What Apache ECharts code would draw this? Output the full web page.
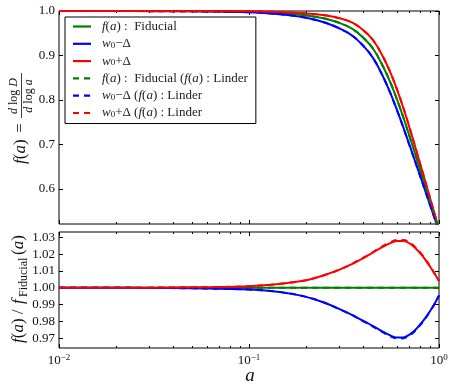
<!DOCTYPE html>
<html>
<head>
<meta charset="utf-8">
<script src="https://cdn.jsdelivr.net/npm/echarts@6/dist/echarts.min.js"></script>
<style>
  html, body { margin: 0; padding: 0; background: #fff; }
  #chart { width: 458px; height: 387px; }
</style>
</head>
<body>
<div id="chart"></div>
<script>
// scale factor a
const A = [0.01, 0.02, 0.03, 0.05, 0.07, 0.1, 0.13, 0.16, 0.2, 0.25, 0.3, 0.35, 0.4, 0.45, 0.5,
    0.55, 0.6, 0.65, 0.7, 0.75, 0.8, 0.85, 0.9, 0.95, 1.0];

// top panel: f(a) = dlogD/dloga
const fFid = [1.0000, 0.9999, 0.9998, 0.9996, 0.9992, 0.9982, 0.9965, 0.994, 0.990, 0.983, 0.973, 0.960,
    0.940, 0.915, 0.881, 0.843, 0.802, 0.760, 0.718, 0.678, 0.640, 0.604, 0.570, 0.538, 0.508];
const fLo = [1.0000, 0.9999, 0.9997, 0.9993, 0.9986, 0.9972, 0.9946, 0.9908, 0.9847, 0.9743, 0.9606, 0.9444,
    0.9215, 0.8941, 0.8583, 0.8193, 0.7783, 0.7376, 0.6980, 0.6610, 0.6262, 0.5933, 0.5622, 0.5330, 0.5057];
const fHi = [1.0000, 0.9999, 0.9999, 0.9999, 0.9997, 0.9992, 0.9983, 0.9969, 0.9945, 0.9905, 0.9835, 0.9737,
    0.9566, 0.9342, 0.9022, 0.8653, 0.8243, 0.7812, 0.7370, 0.6941, 0.6530, 0.6140, 0.5771, 0.5424, 0.5100];
const fFidL = [1.0000, 0.9999, 0.9998, 0.9996, 0.9992, 0.9982, 0.9965, 0.994, 0.990, 0.983, 0.973, 0.960,
    0.940, 0.915, 0.881, 0.843, 0.802, 0.760, 0.718, 0.678, 0.640, 0.604, 0.570, 0.538, 0.508];
const fLoL = [1.0000, 0.9999, 0.9997, 0.9993, 0.9986, 0.9972, 0.9946, 0.9908, 0.9847, 0.9743, 0.9606, 0.9444,
    0.9215, 0.8940, 0.8580, 0.8189, 0.7778, 0.7371, 0.6976, 0.6607, 0.6259, 0.5931, 0.5621, 0.5330, 0.5057];
const fHiL = [1.0000, 0.9999, 0.9999, 0.9999, 0.9997, 0.9992, 0.9983, 0.9969, 0.9945, 0.9905, 0.9835, 0.9737,
    0.9566, 0.9343, 0.9024, 0.8657, 0.8248, 0.7817, 0.7374, 0.6944, 0.6533, 0.6142, 0.5772, 0.5424, 0.5100];

// bottom panel: f(a) / f_Fiducial(a)
const rFid = [1, 1, 1, 1, 1, 1, 1, 1, 1, 1, 1, 1, 1, 1, 1, 1, 1, 1, 1, 1, 1, 1, 1, 1, 1];
const rLo = [1.0000, 1.0000, 0.9999, 0.9997, 0.9994, 0.9990, 0.9981, 0.9968, 0.9946, 0.9911, 0.9873, 0.9838,
    0.9803, 0.9772, 0.9743, 0.9719, 0.9704, 0.9705, 0.9722, 0.9749, 0.9785, 0.9823, 0.9864, 0.9907, 0.9955];
const rHi = [1.0000, 1.0000, 1.0001, 1.0003, 1.0005, 1.0010, 1.0018, 1.0029, 1.0045, 1.0076, 1.0108, 1.0143,
    1.0177, 1.0210, 1.0241, 1.0264, 1.0278, 1.0279, 1.0264, 1.0237, 1.0203, 1.0165, 1.0124, 1.0082, 1.0040];
const rFidL = [1, 1, 1, 1, 1, 1, 1, 1, 1, 1, 1, 1, 1, 1, 1, 1, 1, 1, 1, 1, 1, 1, 1, 1, 1];
const rLoL = [1.0000, 1.0000, 0.9999, 0.9997, 0.9994, 0.9990, 0.9981, 0.9968, 0.9946, 0.9911, 0.9872, 0.9837,
    0.9801, 0.9769, 0.9739, 0.9714, 0.9699, 0.9700, 0.9717, 0.9745, 0.9781, 0.9820, 0.9862, 0.9906, 0.9955];
const rHiL = [1.0000, 1.0000, 1.0001, 1.0003, 1.0005, 1.0010, 1.0018, 1.0029, 1.0045, 1.0076, 1.0109, 1.0144,
    1.0179, 1.0213, 1.0245, 1.0269, 1.0284, 1.0285, 1.0270, 1.0242, 1.0208, 1.0169, 1.0127, 1.0084, 1.0041];

const X_MAJOR = [0.01, 0.1, 1];
const X_MINOR = [0.02, 0.03, 0.04, 0.05, 0.06, 0.07, 0.08, 0.09, 0.2, 0.3, 0.4, 0.5, 0.6, 0.7, 0.8, 0.9];
const Y_TOP_TICKS = [0.6, 0.7, 0.8, 0.9, 1.0];
const Y_BOT_TICKS = [0.97, 0.98, 0.99, 1.00, 1.01, 1.02, 1.03];

const NAMES = [
    'f(a): Fiducial', 'w0-Delta', 'w0+Delta',
    'f(a): Fiducial (f(a): Linder', 'w0-Delta (f(a): Linder', 'w0+Delta (f(a): Linder'
];
const LEGEND_RICH = {
    'f(a): Fiducial': '{i|f}({i|a}) :  Fiducial',
    'w0-Delta': '{i|w}{s|0}−Δ',
    'w0+Delta': '{i|w}{s|0}+Δ',
    'f(a): Fiducial (f(a): Linder': '{i|f}({i|a}) :  Fiducial ({i|f}({i|a}) : Linder',
    'w0-Delta (f(a): Linder': '{i|w}{s|0}−Δ ({i|f}({i|a}) : Linder',
    'w0+Delta (f(a): Linder': '{i|w}{s|0}+Δ ({i|f}({i|a}) : Linder'
};
const COLORS = ['#008000', '#0000ff', '#ff0000', '#008000', '#0000ff', '#ff0000'];

const SERIF = 'Liberation Serif';
const ICON_SOLID = 'path://M0,0 L18,0 L18,2.2 L0,2.2 Z';
const ICON_DASH = 'path://M0,0 L6,0 L6,2.2 L0,2.2 Z M11,0 L17,0 L17,2.2 L11,2.2 Z M17.9,0 L18,0 L18,2.2 L17.9,2.2 Z';

function pairs(xs, ys) {
    return xs.map((x, i) => [x, ys[i]]);
}

function xAxes(grid, pos, ticks, len, labels) {
    return {
        type: 'log', logBase: 10, gridIndex: grid, position: pos, min: 0.01, max: 1,
        axisLine: { show: false },
        splitLine: { show: false },
        axisTick: { show: true, inside: true, length: len, customValues: ticks, lineStyle: { color: '#000', width: 1 } },
        axisLabel: labels ? {
            show: true, customValues: X_MAJOR, margin: 5,
            fontFamily: SERIF, fontSize: 13, color: '#111',
            formatter: v => {
                if (Math.abs(v - 0.01) < 1e-9) return '{b|10}{s|−2}';
                if (Math.abs(v - 0.1) < 1e-9) return '{b|10}{s|−1}';
                return '{b|10}{s|0}';
            },
            rich: {
                b: { fontFamily: SERIF, fontSize: 13, color: '#111', lineHeight: 16 },
                s: { fontFamily: SERIF, fontSize: 9, color: '#111', verticalAlign: 'top', lineHeight: 9 }
            }
        } : { show: false }
    };
}

function yAxes(grid, pos, min, max, ticks, digits, labels) {
    return {
        type: 'value', gridIndex: grid, position: pos, min: min, max: max,
        axisLine: { show: false },
        splitLine: { show: false },
        axisTick: { show: true, inside: true, length: 4, customValues: ticks, lineStyle: { color: '#000' } },
        axisLabel: labels ? {
            show: true, customValues: ticks, margin: 4,
            fontFamily: SERIF, fontSize: 13, color: '#111',
            formatter: v => v.toFixed(digits)
        } : { show: false }
    };
}

const chart = echarts.init(document.getElementById('chart'), null, { renderer: 'canvas' });

const series = [];
const topData = [fFid, fLo, fHi, fFidL, fLoL, fHiL];
const botData = [rFid, rLo, rHi, rFidL, rLoL, rHiL];
topData.forEach((ys, i) => {
    series.push({
        name: NAMES[i], type: 'line', xAxisIndex: 0, yAxisIndex: 0,
        data: pairs(A, ys), showSymbol: false, symbol: 'none', smooth: 0.4, clip: true,
        color: COLORS[i],
        lineStyle: { width: 2, color: COLORS[i], type: i >= 3 ? [6, 5] : 'solid' },
        animation: false, z: 2 + i
    });
});
botData.forEach((ys, i) => {
    series.push({
        name: NAMES[i], type: 'line', xAxisIndex: 4, yAxisIndex: 2,
        data: pairs(A, ys), showSymbol: false, symbol: 'none', smooth: 0.4, clip: true,
        color: COLORS[i],
        lineStyle: { width: 2, color: COLORS[i], type: i >= 3 ? [6, 5] : 'solid' },
        animation: false, z: 2 + i
    });
});

const option = {
    backgroundColor: '#fff',
    animation: false,
    grid: [
        { left: 59, right: 19, top: 11, height: 213, show: true, borderColor: '#000', borderWidth: 1, backgroundColor: 'transparent' },
        { left: 59, right: 19, top: 232, height: 116, show: true, borderColor: '#000', borderWidth: 1, backgroundColor: 'transparent' }
    ],
    xAxis: [
        xAxes(0, 'bottom', X_MAJOR, 4, false),
        xAxes(0, 'bottom', X_MINOR, 2, false),
        xAxes(0, 'top', X_MAJOR, 4, false),
        xAxes(0, 'top', X_MINOR, 2, false),
        xAxes(1, 'bottom', X_MAJOR, 4, true),
        xAxes(1, 'bottom', X_MINOR, 2, false),
        xAxes(1, 'top', X_MAJOR, 4, false),
        xAxes(1, 'top', X_MINOR, 2, false)
    ],
    yAxis: [
        yAxes(0, 'left', 0.521, 1.0, Y_TOP_TICKS, 1, true),
        yAxes(0, 'right', 0.521, 1.0, Y_TOP_TICKS, 1, false),
        yAxes(1, 'left', 0.9642, 1.0332, Y_BOT_TICKS, 2, true),
        yAxes(1, 'right', 0.9642, 1.0332, Y_BOT_TICKS, 2, false)
    ],
    legend: {
        show: true,
        data: NAMES.map((n, i) => ({ name: n, icon: i >= 3 ? ICON_DASH : ICON_SOLID })),
        orient: 'vertical',
        left: 65, top: 17,
        padding: [3, 8, 4, 8],
        itemWidth: 18, itemHeight: 3, itemGap: 4.3,
        backgroundColor: '#fff',
        borderColor: '#000', borderWidth: 1,
        selectedMode: false,
        z: 10,
        formatter: name => LEGEND_RICH[name],
        textStyle: {
            fontFamily: SERIF, fontSize: 13, color: '#222', padding: [0, 0, 0, 6], lineHeight: 13,
            rich: {
                i: { fontFamily: SERIF, fontSize: 13, fontStyle: 'italic', color: '#222', lineHeight: 13 },
                s: { fontFamily: SERIF, fontSize: 9, color: '#222', verticalAlign: 'bottom', lineHeight: 13 }
            }
        }
    },
    graphic: [
        {
            type: 'group', x: 21, y: 118, rotation: Math.PI / 2,
            children: [
                { type: 'text', x: -46, y: 0, style: {
                    text: '{i|f}({i|a})', font: '17px ' + SERIF, fill: '#111', align: 'left', verticalAlign: 'middle',
                    rich: { i: { font: 'italic 17px ' + SERIF, fill: '#111' } } } },
                { type: 'text', x: -10, y: 0, style: { text: '=', font: '16px ' + SERIF, fill: '#111', align: 'center', verticalAlign: 'middle' } },
                { type: 'text', x: 22, y: -7, style: {
                    text: '{i|d} log {i|D}', font: '12px ' + SERIF, fill: '#111', align: 'center', verticalAlign: 'middle',
                    rich: { i: { font: 'italic 12px ' + SERIF, fill: '#111' } } } },
                { type: 'rect', shape: { x: 0, y: 0, width: 45, height: 0.8 }, style: { fill: '#111' } },
                { type: 'text', x: 22, y: 8, style: {
                    text: '{i|d} log {i|a}', font: '12px ' + SERIF, fill: '#111', align: 'center', verticalAlign: 'middle',
                    rich: { i: { font: 'italic 12px ' + SERIF, fill: '#111' } } } }
            ]
        },
        {
            type: 'group', x: 19, y: 289, rotation: Math.PI / 2,
            children: [
                { type: 'text', x: -54, y: 0, style: {
                    text: '{i|f}({i|a}) /', font: '17px ' + SERIF, fill: '#111', align: 'left', verticalAlign: 'middle',
                    rich: { i: { font: 'italic 17px ' + SERIF, fill: '#111' } } } },
                { type: 'text', x: -15, y: 0, style: { text: 'f', font: 'italic 17px ' + SERIF, fill: '#111', align: 'left', verticalAlign: 'middle' } },
                { type: 'text', x: -8, y: 5, style: { text: 'Fiducial', font: '12px ' + SERIF, fill: '#111', align: 'left', verticalAlign: 'middle' } },
                { type: 'text', x: 34, y: 0, style: {
                    text: '({i|a})', font: '17px ' + SERIF, fill: '#111', align: 'left', verticalAlign: 'middle',
                    rich: { i: { font: 'italic 17px ' + SERIF, fill: '#111' } } } }
            ]
        },
        {
            type: 'text', x: 250, y: 376,
            style: { text: 'a', font: 'italic 19px ' + SERIF, fill: '#111', align: 'center', verticalAlign: 'middle' }
        }
    ],
    series: series
};

chart.setOption(option);
</script>
</body>
</html>
